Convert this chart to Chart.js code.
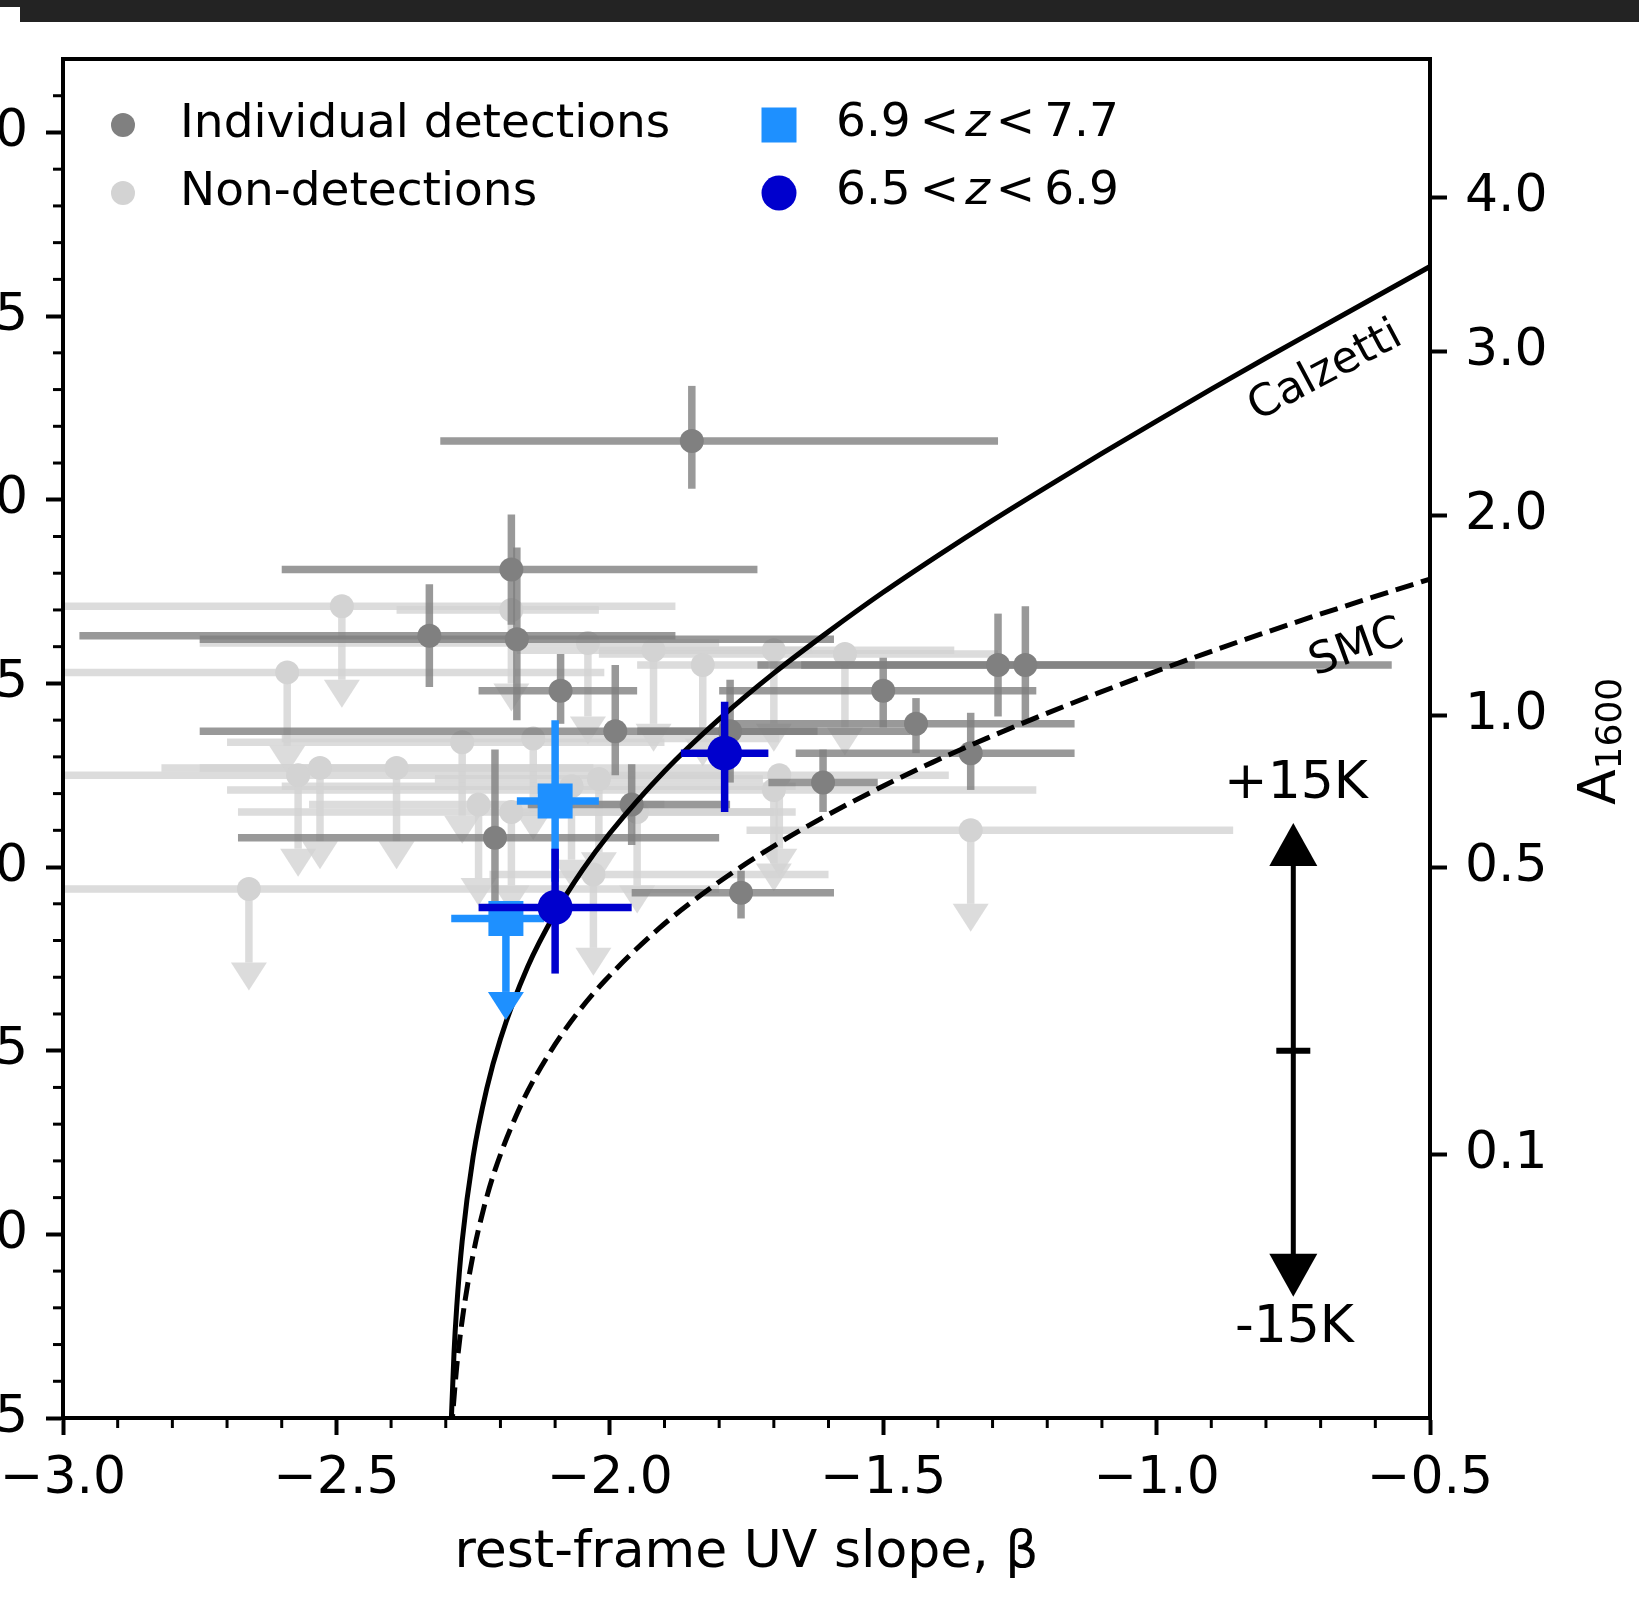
<!DOCTYPE html>
<html lang="en">
<head>
<meta charset="utf-8">
<title>IRX - beta</title>
<script src="https://cdn.jsdelivr.net/npm/chart.js@4.4.1/dist/chart.umd.min.js"></script>
<style>
	html, body { margin: 0; padding: 0; background: #fff; }
	#frame { position: relative; width: 1639px; height: 1616px; overflow: hidden; }
	.topbar { position: absolute; background: #232323; }
	#irxChart { position: absolute; left: 0; top: 0; }
</style>
</head>
<body>
<div id="frame">
	<div class="topbar" style="left:0;top:0;width:1639px;height:7px"></div>
	<div class="topbar" style="left:20px;top:0;width:1619px;height:22px"></div>
	<canvas id="irxChart" width="1639" height="1616"></canvas>
</div>
<script>
// Individual detections: beta, log IRX and the ends of their error bars
const detBeta = [-1.85, -2.18, -2.17, -2.33, -2.09, -1.99, -2.21, -1.96, -1.78, -1.50, -1.44, -1.34, -1.29, -1.24, -1.61, -1.76]
const detLogIrx = [1.16, 0.81, 0.62, 0.63, 0.48, 0.37, 0.08, 0.17, 0.37, 0.48, 0.39, 0.31, 0.55, 0.55, 0.23, -0.07]
const detBetaLo = [-2.31, -2.60, -2.75, -2.97, -2.24, -2.75, -2.68, -2.15, -1.95, -1.80, -1.80, -1.66, -1.65, -1.73, -1.71, -1.96]
const detBetaHi = [-1.29, -1.73, -1.59, -1.88, -1.95, -1.45, -1.80, -1.78, -1.62, -1.22, -1.15, -1.15, -0.93, -0.57, -1.51, -1.59]
const detIrxLo = [1.03, 0.66, 0.40, 0.49, 0.39, 0.25, -0.10, 0.06, 0.23, 0.38, 0.31, 0.21, 0.41, 0.40, 0.15, -0.14]
const detIrxHi = [1.31, 0.96, 0.87, 0.77, 0.58, 0.55, 0.32, 0.28, 0.51, 0.57, 0.46, 0.42, 0.69, 0.71, 0.32, -0.01]

// Non-detections: upper limits on IRX
const ndBeta = [-2.49, -2.59, -2.18, -2.04, -1.92, -1.83, -1.70, -1.57, -2.27, -2.14, -2.57, -2.53, -2.39, -2.66, -2.24, -2.18, -2.07, -2.02, -1.95, -1.69, -1.70, -1.34, -2.03]
const ndLogIrx = [0.71, 0.53, 0.70, 0.61, 0.59, 0.55, 0.59, 0.58, 0.34, 0.35, 0.25, 0.27, 0.27, -0.06, 0.17, 0.15, 0.22, 0.24, 0.15, 0.25, 0.21, 0.10, -0.02]
const ndBetaLo = [-3.10, -3.10, -2.39, -2.75, -2.02, -1.95, -2.17, -2.02, -2.70, -2.60, -3.10, -2.82, -2.75, -3.10, -2.55, -2.68, -2.60, -2.32, -2.20, -2.00, -2.70, -1.75, -2.22]
const ndBetaHi = [-1.88, -2.01, -2.02, -1.80, -1.63, -1.71, -1.37, -1.29, -1.90, -1.69, -1.78, -1.78, -2.03, -1.80, -1.90, -1.66, -1.66, -1.72, -1.70, -1.38, -1.22, -0.86, -1.60]

// Stacks at 6.9 < z < 7.7 (second one is an upper limit)
const highzBeta = [-2.10, -2.19]
const highzLogIrx = [0.18, -0.14]
const highzBetaLo = [-2.17, -2.29]
const highzBetaHi = [-2.02, -2.12]
const highzIrxLo = [-0.04, null]
const highzIrxHi = [0.40, null]
const highzUpper = [false, true]

// Stacks at 6.5 < z < 6.9
const lowzBeta = [-2.10, -1.79]
const lowzLogIrx = [-0.11, 0.31]
const lowzBetaLo = [-2.24, -1.87]
const lowzBetaHi = [-1.96, -1.71]
const lowzIrxLo = [-0.29, 0.15]
const lowzIrxHi = [0.05, 0.45]

// Dust curves
const calzettiBeta = [-2.291, -2.285, -2.28, -2.27, -2.25, -2.225, -2.20, -2.15, -2.10, -2.05, -2.00, -1.90, -1.80, -1.70, -1.60, -1.50, -1.40, -1.30, -1.20, -1.10, -1.00, -0.90, -0.80, -0.70, -0.60, -0.50]
const calzettiLogIrx = [-1.551, -1.326, -1.199, -1.019, -0.789, -0.603, -0.468, -0.271, -0.126, -0.008, 0.092, 0.261, 0.403, 0.528, 0.641, 0.748, 0.848, 0.944, 1.036, 1.126, 1.214, 1.301, 1.386, 1.469, 1.552, 1.635]
const smcBeta = [-2.29, -2.28, -2.27, -2.25, -2.23, -2.21, -2.16, -2.11, -2.06, -2.01, -1.91, -1.81, -1.71, -1.61, -1.51, -1.41, -1.31, -1.21, -1.11, -1.01, -0.91, -0.81, -0.71, -0.61, -0.50]
const smcLogIrx = [-1.539, -1.361, -1.234, -1.055, -0.926, -0.825, -0.640, -0.506, -0.399, -0.311, -0.167, -0.051, 0.048, 0.135, 0.213, 0.285, 0.351, 0.413, 0.472, 0.528, 0.582, 0.634, 0.684, 0.732, 0.784]

// Axis ticks
const betaTicks = [-3.0, -2.5, -2.0, -1.5, -1.0, -0.5]
const betaMinorTicks = [-2.9, -2.8, -2.7, -2.6, -2.4, -2.3, -2.2, -2.1, -1.9, -1.8, -1.7, -1.6, -1.4, -1.3, -1.2, -1.1, -0.9, -0.8, -0.7, -0.6]
const irxTicks = [-1.5, -1.0, -0.5, 0.0, 0.5, 1.0, 1.5, 2.0]
const irxMinorTicks = [-1.4, -1.3, -1.2, -1.1, -0.9, -0.8, -0.7, -0.6, -0.4, -0.3, -0.2, -0.1, 0.1, 0.2, 0.3, 0.4, 0.6, 0.7, 0.8, 0.9, 1.1, 1.2, 1.3, 1.4, 1.6, 1.7, 1.8, 1.9, 2.1]
const a1600Ticks = [0.1, 0.5, 1.0, 2.0, 3.0, 4.0]
const a1600Labels = ['0.1', '0.5', '1.0', '2.0', '3.0', '4.0']

// +/-15K dust temperature arrow
const tempArrowBeta = -0.75
const tempArrowMid = -0.5
const tempArrowTop = 0.12
const tempArrowBottom = -1.17

const UPLIM_DEX = 0.2
const FONT = "'DejaVu Sans'"

// secondary axis: A1600 -> log IRX
function a1600ToLogIrx(a) {
	return Math.log10(1.71 * (Math.pow(10, 0.4 * a) - 1))
}

function minusSign(s) {
	return s.replace('-', '\u2212')
}

function toPoints(bx, by, xlo, xhi, ylo, yhi, upper) {
	return bx.map((b, i) => ({
		x: b,
		y: by[i],
		xMin: xlo[i],
		xMax: xhi[i],
		yMin: ylo ? ylo[i] : null,
		yMax: yhi ? yhi[i] : null,
		upper: Array.isArray(upper) ? upper[i] : upper,
	}))
}

function toLine(bx, by) {
	return bx.map((b, i) => ({ x: b, y: by[i] }))
}

// keep the axes from pushing the plot area in for overhanging labels
function noOverhang(scale) {
	scale.paddingLeft = 0
	scale.paddingRight = 0
	scale.paddingTop = 0
	scale.paddingBottom = 0
}

// error bars and upper-limit arrows, drawn just under each dataset's markers
const errorBars = {
	id: 'errorBars',
	beforeDatasetDraw(chart, args) {
		const ds = chart.data.datasets[args.index]
		if (!ds.errorColor) return
		const { ctx, chartArea: area } = chart
		const xs = chart.scales.x
		const ys = chart.scales.y
		ctx.save()
		ctx.beginPath()
		ctx.rect(area.left, area.top, area.right - area.left, area.bottom - area.top)
		ctx.clip()
		ctx.strokeStyle = ds.errorColor
		ctx.fillStyle = ds.errorColor
		ctx.lineWidth = 7.5
		const seg = (x1, y1, x2, y2) => {
			ctx.beginPath()
			ctx.moveTo(x1, y1)
			ctx.lineTo(x2, y2)
			ctx.stroke()
		}
		ds.data.forEach(p => {
			const px = xs.getPixelForValue(p.x)
			const py = ys.getPixelForValue(p.y)
			seg(xs.getPixelForValue(p.xMin), py, xs.getPixelForValue(p.xMax), py)
			if (p.upper) {
				const yb = ys.getPixelForValue(p.y - UPLIM_DEX)
				seg(px, py, px, yb)
				ctx.beginPath()
				ctx.moveTo(px - 18, yb)
				ctx.lineTo(px + 18, yb)
				ctx.lineTo(px, yb + 28)
				ctx.closePath()
				ctx.fill()
			} else {
				seg(px, ys.getPixelForValue(p.yMin), px, ys.getPixelForValue(p.yMax))
			}
		})
		ctx.restore()
	},
}

// frame, minor ticks, curve labels, temperature arrow, legend, axis titles
const decorations = {
	id: 'decorations',
	afterDraw(chart) {
		const { ctx, chartArea: area } = chart
		const xs = chart.scales.x
		const ys = chart.scales.y
		ctx.save()

		ctx.strokeStyle = '#000'
		ctx.lineWidth = 4
		ctx.strokeRect(area.left, area.top, area.right - area.left, area.bottom - area.top)

		ctx.lineWidth = 3
		betaMinorTicks.forEach(v => {
			const px = xs.getPixelForValue(v)
			ctx.beginPath()
			ctx.moveTo(px, area.bottom)
			ctx.lineTo(px, area.bottom + 10)
			ctx.stroke()
		})
		irxMinorTicks.forEach(v => {
			const py = ys.getPixelForValue(v)
			ctx.beginPath()
			ctx.moveTo(area.left, py)
			ctx.lineTo(area.left - 10, py)
			ctx.stroke()
		})

		// curve names
		ctx.fillStyle = '#000'
		ctx.textAlign = 'center'
		ctx.textBaseline = 'middle'
		ctx.font = `44px ${FONT}`
		const rotated = (text, b, v, deg) => {
			ctx.save()
			ctx.translate(xs.getPixelForValue(b), ys.getPixelForValue(v))
			ctx.rotate((deg * Math.PI) / 180)
			ctx.fillText(text, 0, 0)
			ctx.restore()
		}
		rotated('Calzetti', -0.691, 1.348, -28)
		rotated('SMC', -0.634, 0.595, -20)

		// temperature arrow
		const ax = xs.getPixelForValue(tempArrowBeta)
		const yTop = ys.getPixelForValue(tempArrowTop)
		const yBot = ys.getPixelForValue(tempArrowBottom)
		const yMid = ys.getPixelForValue(tempArrowMid)
		ctx.lineWidth = 5
		ctx.beginPath()
		ctx.moveTo(ax, yTop + 40)
		ctx.lineTo(ax, yBot - 40)
		ctx.stroke()
		ctx.beginPath()
		ctx.moveTo(ax, yTop)
		ctx.lineTo(ax - 24, yTop + 43)
		ctx.lineTo(ax + 24, yTop + 43)
		ctx.closePath()
		ctx.fill()
		ctx.beginPath()
		ctx.moveTo(ax, yBot)
		ctx.lineTo(ax - 24, yBot - 43)
		ctx.lineTo(ax + 24, yBot - 43)
		ctx.closePath()
		ctx.fill()
		ctx.lineWidth = 6
		ctx.beginPath()
		ctx.moveTo(ax - 17, yMid)
		ctx.lineTo(ax + 17, yMid)
		ctx.stroke()
		ctx.font = `52px ${FONT}`
		ctx.fillText('+15K', xs.getPixelForValue(-0.745), ys.getPixelForValue(0.225))
		ctx.fillText('-15K', xs.getPixelForValue(-0.748), ys.getPixelForValue(-1.255))

		// legend
		ctx.textAlign = 'left'
		ctx.textBaseline = 'alphabetic'
		ctx.font = `47px ${FONT}`
		ctx.fillStyle = '#808080'
		ctx.beginPath()
		ctx.arc(123, 125, 12, 0, Math.PI * 2)
		ctx.fill()
		ctx.fillStyle = '#d3d3d3'
		ctx.beginPath()
		ctx.arc(123, 193, 12, 0, Math.PI * 2)
		ctx.fill()
		ctx.fillStyle = '#1e90ff'
		ctx.fillRect(761.5, 107.5, 35, 35)
		ctx.fillStyle = '#0000cd'
		ctx.beginPath()
		ctx.arc(779, 193, 17.5, 0, Math.PI * 2)
		ctx.fill()
		ctx.fillStyle = '#000'
		ctx.fillText('Individual detections', 180, 137)
		ctx.fillText('Non-detections', 180, 205)
		const zRange = (lo, hi, y) => {
			let x = 836
			const part = (t, italic, gap) => {
				ctx.font = `${italic ? 'italic ' : ''}47px ${FONT}`
				ctx.fillText(t, x, y)
				x += ctx.measureText(t).width + gap
			}
			part(lo, false, 9)
			part('<', false, 6)
			part('z', true, 6)
			part('<', false, 9)
			part(hi, false, 0)
		}
		zRange('6.9', '7.7', 136)
		zRange('6.5', '6.9', 204)

		// axis titles
		ctx.font = `52px ${FONT}`
		ctx.textAlign = 'center'
		ctx.fillText('rest-frame UV slope, \u03b2', (area.left + area.right) / 2, 1567)
		ctx.save()
		ctx.translate(1615, 805)
		ctx.rotate(-Math.PI / 2)
		ctx.textAlign = 'left'
		ctx.fillText('A', 0, 0)
		const aw = ctx.measureText('A').width
		ctx.font = `36px ${FONT}`
		ctx.fillText('1600', aw, 6)
		ctx.restore()

		ctx.restore()
	},
}

const tickFont = { family: FONT, size: 52 }
const ctx = document.getElementById('irxChart').getContext('2d')

new Chart(ctx, {
	type: 'scatter',
	data: {
		datasets: [
			{
				label: '6.5 < z < 6.9',
				data: toPoints(lowzBeta, lowzLogIrx, lowzBetaLo, lowzBetaHi, lowzIrxLo, lowzIrxHi, false),
				pointStyle: 'circle',
				pointRadius: 17.5,
				backgroundColor: '#0000cd',
				borderWidth: 0,
				errorColor: '#0000cd',
				order: 0,
			},
			{
				label: '6.9 < z < 7.7',
				data: toPoints(highzBeta, highzLogIrx, highzBetaLo, highzBetaHi, highzIrxLo, highzIrxHi, highzUpper),
				pointStyle: 'rect',
				pointRadius: 24.75,
				backgroundColor: '#1e90ff',
				borderWidth: 0,
				errorColor: '#1e90ff',
				order: 1,
			},
			{
				type: 'line',
				label: 'Calzetti',
				data: toLine(calzettiBeta, calzettiLogIrx),
				showLine: true,
				borderColor: '#000',
				borderWidth: 5,
				pointRadius: 0,
				fill: false,
				cubicInterpolationMode: 'monotone',
				order: 2,
			},
			{
				type: 'line',
				label: 'SMC',
				data: toLine(smcBeta, smcLogIrx),
				showLine: true,
				borderColor: '#000',
				borderWidth: 5,
				borderDash: [18.5, 8],
				pointRadius: 0,
				fill: false,
				cubicInterpolationMode: 'monotone',
				order: 3,
			},
			{
				label: 'Individual detections',
				data: toPoints(detBeta, detLogIrx, detBetaLo, detBetaHi, detIrxLo, detIrxHi, false),
				pointStyle: 'circle',
				pointRadius: 12,
				backgroundColor: '#808080',
				borderWidth: 0,
				errorColor: 'rgba(128,128,128,0.8)',
				order: 4,
			},
			{
				label: 'Non-detections',
				data: toPoints(ndBeta, ndLogIrx, ndBetaLo, ndBetaHi, null, null, true),
				pointStyle: 'circle',
				pointRadius: 12,
				backgroundColor: '#d3d3d3',
				borderWidth: 0,
				errorColor: 'rgba(211,211,211,0.8)',
				order: 5,
			},
		],
	},
	options: {
		responsive: false,
		animation: false,
		devicePixelRatio: 1,
		events: [],
		layout: { padding: { top: 59, left: 0, right: 0, bottom: 0 } },
		plugins: {
			legend: { display: false },
			tooltip: { enabled: false },
		},
		scales: {
			x: {
				type: 'linear',
				position: 'bottom',
				min: -3,
				max: -0.5,
				afterFit: scale => {
					scale.height = 198
					noOverhang(scale)
				},
				afterBuildTicks: scale => {
					scale.ticks = betaTicks.map(v => ({ value: v }))
				},
				ticks: {
					callback: v => minusSign(v.toFixed(1)),
					font: tickFont,
					color: '#000',
					padding: 13,
					maxRotation: 0,
					autoSkip: false,
				},
				grid: { drawOnChartArea: false, drawTicks: true, tickLength: 17, tickWidth: 4, tickColor: '#000' },
				border: { display: true, color: '#000', width: 4 },
			},
			y: {
				type: 'linear',
				position: 'left',
				min: -1.5,
				max: 2.2,
				afterFit: scale => {
					scale.width = 63
					noOverhang(scale)
				},
				afterBuildTicks: scale => {
					scale.ticks = irxTicks.map(v => ({ value: v }))
				},
				ticks: {
					callback: v => minusSign(v.toFixed(1)),
					font: tickFont,
					color: '#000',
					padding: 18,
					autoSkip: false,
				},
				grid: { drawOnChartArea: false, drawTicks: true, tickLength: 17, tickWidth: 4, tickColor: '#000' },
				border: { display: true, color: '#000', width: 4 },
			},
			yA: {
				type: 'linear',
				position: 'right',
				min: -1.5,
				max: 2.2,
				afterFit: scale => {
					scale.width = 209
					noOverhang(scale)
				},
				afterBuildTicks: scale => {
					scale.ticks = a1600Ticks.map(a => ({ value: a1600ToLogIrx(a) }))
				},
				ticks: {
					callback: (v, i) => a1600Labels[i],
					font: tickFont,
					color: '#000',
					padding: 18,
					autoSkip: false,
				},
				grid: { drawOnChartArea: false, drawTicks: true, tickLength: 17, tickWidth: 4, tickColor: '#000' },
				border: { display: true, color: '#000', width: 4 },
			},
		},
	},
	plugins: [errorBars, decorations],
})
</script>
</body>
</html>
